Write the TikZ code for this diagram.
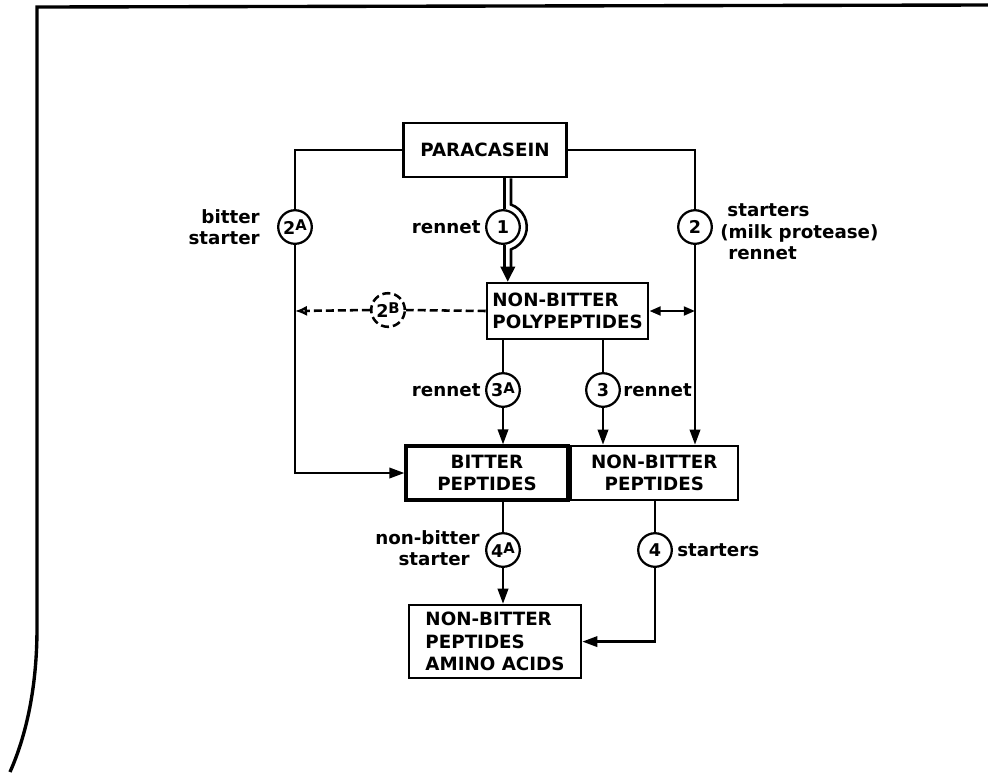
\documentclass[tikz,border=0pt]{standalone}
\usepackage{fontspec}
\setmainfont{DejaVu Sans}
\newfontfamily\boxfont{DejaVu Sans Bold}
\newfontfamily\labfont{DejaVu Sans Bold}
\usetikzlibrary{arrows.meta,calc}
\newcommand{\cirsup}[1]{\raisebox{.35ex}{\fontsize{10.5}{10.5}\selectfont #1}}
\tikzset{
  pbox/.style={draw,line width=1.8pt,font={\boxfont\fontsize{13}{16}\selectfont},align=center,inner sep=2pt},
  pcirc/.style={draw,circle,line width=1.6pt,minimum size=0.84cm,inner sep=0pt,fill=white,font={\labfont\fontsize{12.5}{14}\selectfont}},
  plab/.style={font={\labfont\fontsize{13}{15.3}\selectfont},inner sep=0pt},
  parr/.style={-{Triangle[length=3.8mm,width=2.6mm]},line width=1.8pt},
  pline/.style={line width=1.8pt},
  pdash/.style={line width=1.8pt,dash pattern=on 2mm off 1mm}
}
\begin{document}
\begin{tikzpicture}
  \fill[white] (0,0) rectangle (24.7,-19.3);
  \useasboundingbox (0,0) rectangle (24.7,-19.3);
  \draw[line width=2.4pt] (24.7,-0.125) -- (0.925,-0.175) -- (0.925,-15.7) .. controls (0.925,-17.2) and (0.65,-18.4) .. (0.25,-19.3);
  \node[pbox,minimum width=4.07cm,minimum height=1.35cm] (par) at (12.125,-3.75) {PARACASEIN};
  \node[pbox,minimum width=4.03cm,minimum height=1.4cm,align=left] (poly) at (14.19,-7.775) {NON-BITTER\\POLYPEPTIDES};
  \node[pbox,line width=2.2pt,minimum width=4.05cm,minimum height=1.35cm] (bit) at (12.175,-11.825) {BITTER\\PEPTIDES};
  \node[pbox,minimum width=4.175cm,minimum height=1.35cm,anchor=west] (nbp) at (bit.east) {NON-BITTER\\PEPTIDES};
  \node[pbox,minimum width=4.3cm,minimum height=1.825cm,align=left] (aa) at (12.375,-16.04) {NON-BITTER\\PEPTIDES\\AMINO ACIDS};
  \node[pcirc] (c2A) at (7.375,-5.675) {2\cirsup{A}};
  \node[pcirc] (c1) at (12.575,-5.675) {1};
  \node[pcirc] (c2) at (17.375,-5.675) {2};
  \node[pcirc,pdash] (c2B) at (9.7,-7.75) {2\cirsup{B}};
  \node[pcirc] (c3A) at (12.575,-9.75) {3\cirsup{A}};
  \node[pcirc] (c3) at (15.075,-9.75) {3};
  \node[pcirc] (c4A) at (12.575,-13.75) {4\cirsup{A}};
  \node[pcirc] (c4) at (16.375,-13.75) {4};
  \node[plab,anchor=east,align=right] (lab2A) at (6.5,-5.675) {bitter\\starter};
  \node[plab,anchor=east] (lab1) at (12.02,-5.675) {rennet};
  \node[plab,anchor=west,align=left] (lab2) at (18.0,-5.8) {\hspace*{0.18cm}starters\\(milk protease)\\\hspace*{0.2cm}rennet};
  \node[plab,anchor=east] (lab3A) at (12.02,-9.75) {rennet};
  \node[plab,anchor=west] (lab3) at (15.575,-9.75) {rennet};
  \node[plab,anchor=east,align=right] (lab4A) at (12.0,-13.7) {non-bitter\\starter\hspace*{0.25cm}};
  \node[plab,anchor=west] (lab4) at (16.925,-13.75) {starters};
  \coordinate (j2B) at (c2A |- poly.west);
  \coordinate (j2) at (c2 |- poly.east);
  \draw[pline] (par.west) -| (c2A.north);
  \draw[parr] (c2A.south) |- (bit.west);
  \draw[pline] (par.east) -| (c2.north);
  \draw[parr] (c2.south) -- (c2 |- nbp.north);
  \draw[pline] ($(c1 |- par.south)+(0.04,0)$) -- ($(c1.north)+(0.04,0)$);
  \draw[pline] ($(c1 |- par.south)+(0.2,0)$) -- ($(c1)+(0.2,0.56)$) arc[start angle=70.3,end angle=-70.3,radius=0.595cm] -- ($(c1 |- poly.north)+(0.2,0.3)$);
  \draw[pline] ($(c1.south)+(0.04,0)$) -- ($(c1 |- poly.north)+(0.04,0.3)$);
  \draw[parr,-{Triangle[length=3.8mm,width=3.6mm]}] ($(c1 |- poly.north)+(0.12,0.38)$) -- ($(c1 |- poly.north)+(0.12,0)$);
  \draw[pdash] (poly.west) -- (c2B.east);
  \draw[pdash,-{Latex[open,length=3mm,width=2.6mm]}] (c2B.west) -- (j2B);
  \draw[pline,{Triangle[length=2.8mm,width=2.2mm]}-{Triangle[length=2.8mm,width=2.2mm]}] (poly.east) -- (j2);
  \draw[pline] (c3A |- poly.south) -- (c3A.north);
  \draw[parr] (c3A.south) -- (c3A |- bit.north);
  \draw[pline] (c3 |- poly.south) -- (c3.north);
  \draw[parr] (c3.south) -- (c3 |- nbp.north);
  \draw[pline] (c4A |- bit.south) -- (c4A.north);
  \draw[parr] (c4A.south) -- (c4A |- aa.north);
  \draw[pline] (c4 |- nbp.south) -- (c4.north);
  \draw[parr] (c4.south) |- (aa.east);
\end{tikzpicture}
\end{document}
